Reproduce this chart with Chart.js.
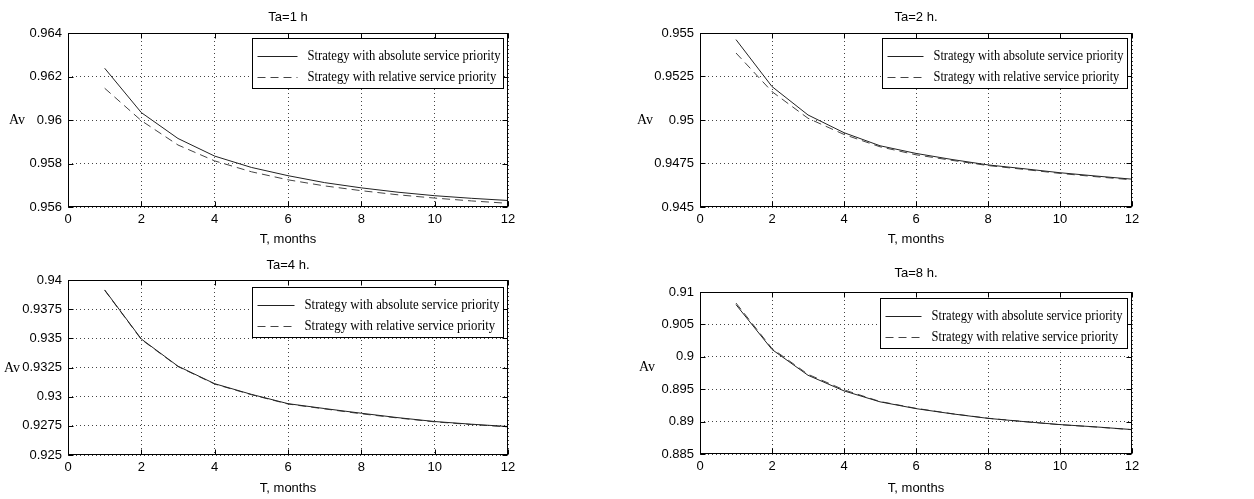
<!DOCTYPE html>
<html>
<head>
<meta charset="utf-8">
<script src="https://cdn.jsdelivr.net/npm/chart.js@4.4.0/dist/chart.umd.min.js"></script>
<style>
  body { margin: 0; background: #fff; width: 1254px; height: 499px; overflow: hidden; position: relative; }
  canvas { position: absolute; }
</style>
</head>
<body>
<canvas id="c1" width="620" height="250" style="left:0;top:0"></canvas>
<canvas id="c2" width="634" height="250" style="left:620px;top:0"></canvas>
<canvas id="c3" width="620" height="249" style="left:0;top:250px"></canvas>
<canvas id="c4" width="634" height="249" style="left:620px;top:250px"></canvas>
<script>
// data
var months = [1, 2, 3, 4, 5, 6, 7, 8, 9, 10, 11, 12];
var seriesLabels = ['Strategy with absolute service priority', 'Strategy with relative service priority'];
var titles = ['Ta=1 h', 'Ta=2 h.', 'Ta=4 h.', 'Ta=8 h.'];
var xTicks = [0, 2, 4, 6, 8, 10, 12];

var absTa1 = [0.96238, 0.96034, 0.95915, 0.95834, 0.95782, 0.95744, 0.95712, 0.95688, 0.95668, 0.95652, 0.95640, 0.95630];
var relTa1 = [0.96146, 0.95997, 0.95885, 0.95812, 0.95762, 0.95725, 0.95697, 0.95675, 0.95656, 0.95641, 0.95628, 0.95617];
var yTicksTa1 = [0.956, 0.958, 0.96, 0.962, 0.964];

var absTa2 = [0.95462, 0.95192, 0.95029, 0.94927, 0.94852, 0.94808, 0.94773, 0.94742, 0.94720, 0.94697, 0.94678, 0.94660];
var relTa2 = [0.95385, 0.95163, 0.95010, 0.94917, 0.94846, 0.94800, 0.94768, 0.94738, 0.94716, 0.94693, 0.94674, 0.94656];
var yTicksTa2 = [0.945, 0.9475, 0.95, 0.9525, 0.955];

var absTa4 = [0.93915, 0.93494, 0.93261, 0.93111, 0.93020, 0.92940, 0.92898, 0.92858, 0.92820, 0.92787, 0.92764, 0.92744];
var relTa4 = [0.93912, 0.93490, 0.93258, 0.93108, 0.93017, 0.92937, 0.92895, 0.92853, 0.92817, 0.92784, 0.92761, 0.92741];
var yTicksTa4 = [0.925, 0.9275, 0.93, 0.9325, 0.935, 0.9375, 0.94];

var absTa8 = [0.90805, 0.90113, 0.89715, 0.89474, 0.89305, 0.89200, 0.89120, 0.89050, 0.89000, 0.88954, 0.88918, 0.88877];
var relTa8 = [0.90830, 0.90128, 0.89730, 0.89490, 0.89310, 0.89205, 0.89122, 0.89052, 0.89000, 0.88952, 0.88916, 0.88875];
var yTicksTa8 = [0.885, 0.89, 0.895, 0.9, 0.905, 0.91];

// box, inward ticks, title, "Av" and the legend
var deco = {
  id: 'deco',
  afterDraw: function(chart, args, o) {
    var ctx = chart.ctx, a = chart.chartArea;
    var l = Math.round(a.left) + 0.5, t = Math.round(a.top) + 0.5;
    var r = Math.round(a.right) - 0.5, b = Math.round(a.bottom) - 0.5;
    ctx.save();
    ctx.strokeStyle = '#000';
    ctx.lineWidth = 1;
    ctx.setLineDash([]);
    ctx.strokeRect(l, t, r - l, b - t);

    ctx.beginPath();
    chart.scales.x.ticks.forEach(function(tk) {
      var px = Math.round(chart.scales.x.getPixelForValue(tk.value)) + 0.5;
      ctx.moveTo(px, b); ctx.lineTo(px, b - 5);
      ctx.moveTo(px, t); ctx.lineTo(px, t + 5);
    });
    chart.scales.y.ticks.forEach(function(tk) {
      var py = Math.round(chart.scales.y.getPixelForValue(tk.value)) + 0.5;
      ctx.moveTo(l, py); ctx.lineTo(l + 5, py);
      ctx.moveTo(r, py); ctx.lineTo(r - 5, py);
    });
    ctx.stroke();

    ctx.fillStyle = '#000';
    ctx.textBaseline = 'middle';
    ctx.textAlign = 'center';
    ctx.font = '13px "Liberation Sans"';
    ctx.fillText(o.title, (a.left + a.right) / 2, o.titleY);
    ctx.font = '14px "Liberation Serif"';
    ctx.fillText('Av', o.avX, o.avY);

    // legend box in the upper right corner
    var bx = Math.round(a.right) - 5 - o.legendW + 0.5;
    var by = Math.round(a.top) + o.legendTop + 0.5;
    ctx.fillStyle = '#fff';
    ctx.fillRect(bx, by, o.legendW, 50);
    ctx.strokeStyle = '#000';
    ctx.strokeRect(bx, by, o.legendW, 50);
    ctx.font = '14px "Liberation Serif"';
    var sx = o.textW / ctx.measureText(seriesLabels[0]).width;
    chart.data.datasets.forEach(function(ds, i) {
      var yy = Math.round(by + 17 + i * 21) + 0.5;
      ctx.strokeStyle = ds.borderColor;
      ctx.setLineDash(ds.borderDash || []);
      ctx.beginPath();
      ctx.moveTo(bx + 5, yy);
      ctx.lineTo(bx + o.textX - 10, yy);
      ctx.stroke();
      ctx.setLineDash([]);
      ctx.save();
      ctx.translate(bx + o.textX, yy);
      ctx.scale(sx, 1);
      ctx.fillStyle = '#000';
      ctx.textAlign = 'left';
      ctx.fillText(ds.label, 0, 0);
      ctx.restore();
    });
    ctx.restore();
  }
};

function points(vals) {
  return months.map(function(m, i) { return { x: m, y: vals[i] }; });
}

function makePanel(id, abs, rel, yTicks, title, lay) {
  var tickFont = { family: 'Liberation Sans', size: 13 };
  return new Chart(document.getElementById(id), {
    type: 'line',
    data: {
      datasets: [
        { label: seriesLabels[0], data: points(abs), borderColor: '#222', borderWidth: 1, pointRadius: 0, tension: 0 },
        { label: seriesLabels[1], data: points(rel), borderColor: '#444', borderWidth: 1, borderDash: [8, 5], pointRadius: 0, tension: 0 }
      ]
    },
    options: {
      responsive: false,
      animation: false,
      events: [],
      layout: { padding: { top: lay.padTop, right: lay.padRight, left: 0, bottom: 0 } },
      plugins: {
        legend: { display: false },
        tooltip: { enabled: false },
        deco: { title: title, titleY: lay.titleY, avX: lay.avX, avY: lay.avY,
                legendW: lay.legendW, legendTop: lay.legendTop, textX: lay.textX, textW: lay.textW }
      },
      scales: {
        x: {
          type: 'linear', min: 0, max: 12,
          afterBuildTicks: function(s) { s.ticks = xTicks.map(function(v) { return { value: v }; }); },
          afterFit: function(s) { s.height = lay.xHeight; },
          ticks: { color: '#000', font: tickFont, padding: 5, maxRotation: 0, callback: function(v) { return String(v); } },
          grid: { color: '#444', lineWidth: 1, drawTicks: false },
          border: { display: false, dash: [1, 3] },
          title: { display: true, text: 'T, months', color: '#000', font: tickFont, padding: { top: 0, bottom: 3 } }
        },
        y: {
          type: 'linear', min: yTicks[0], max: yTicks[yTicks.length - 1],
          afterBuildTicks: function(s) { s.ticks = yTicks.map(function(v) { return { value: v }; }); },
          afterFit: function(s) { s.width = lay.yWidth; },
          ticks: { color: '#000', font: tickFont, padding: 6, callback: function(v) { return String(v); } },
          grid: { color: '#444', lineWidth: 1, drawTicks: false },
          border: { display: false, dash: [1, 3] }
        }
      }
    },
    plugins: [deco]
  });
}

makePanel('c1', absTa1, relTa1, yTicksTa1, titles[0],
  { padTop: 33, padRight: 112, yWidth: 68, xHeight: 43, titleY: 17, avX: 17, avY: 120,
    legendW: 251, legendTop: 5, textX: 55, textW: 193 });
makePanel('c2', absTa2, relTa2, yTicksTa2, titles[1],
  { padTop: 33, padRight: 122, yWidth: 80, xHeight: 43, titleY: 17, avX: 25, avY: 120,
    legendW: 245, legendTop: 5, textX: 51, textW: 190 });
makePanel('c3', absTa4, relTa4, yTicksTa4, titles[2],
  { padTop: 30, padRight: 112, yWidth: 68, xHeight: 44, titleY: 15, avX: 12, avY: 118,
    legendW: 251, legendTop: 7, textX: 52, textW: 195 });
makePanel('c4', absTa8, relTa8, yTicksTa8, titles[3],
  { padTop: 42, padRight: 122, yWidth: 80, xHeight: 45, titleY: 23, avX: 27, avY: 117,
    legendW: 247, legendTop: 6, textX: 51, textW: 191 });
</script>
</body>
</html>
